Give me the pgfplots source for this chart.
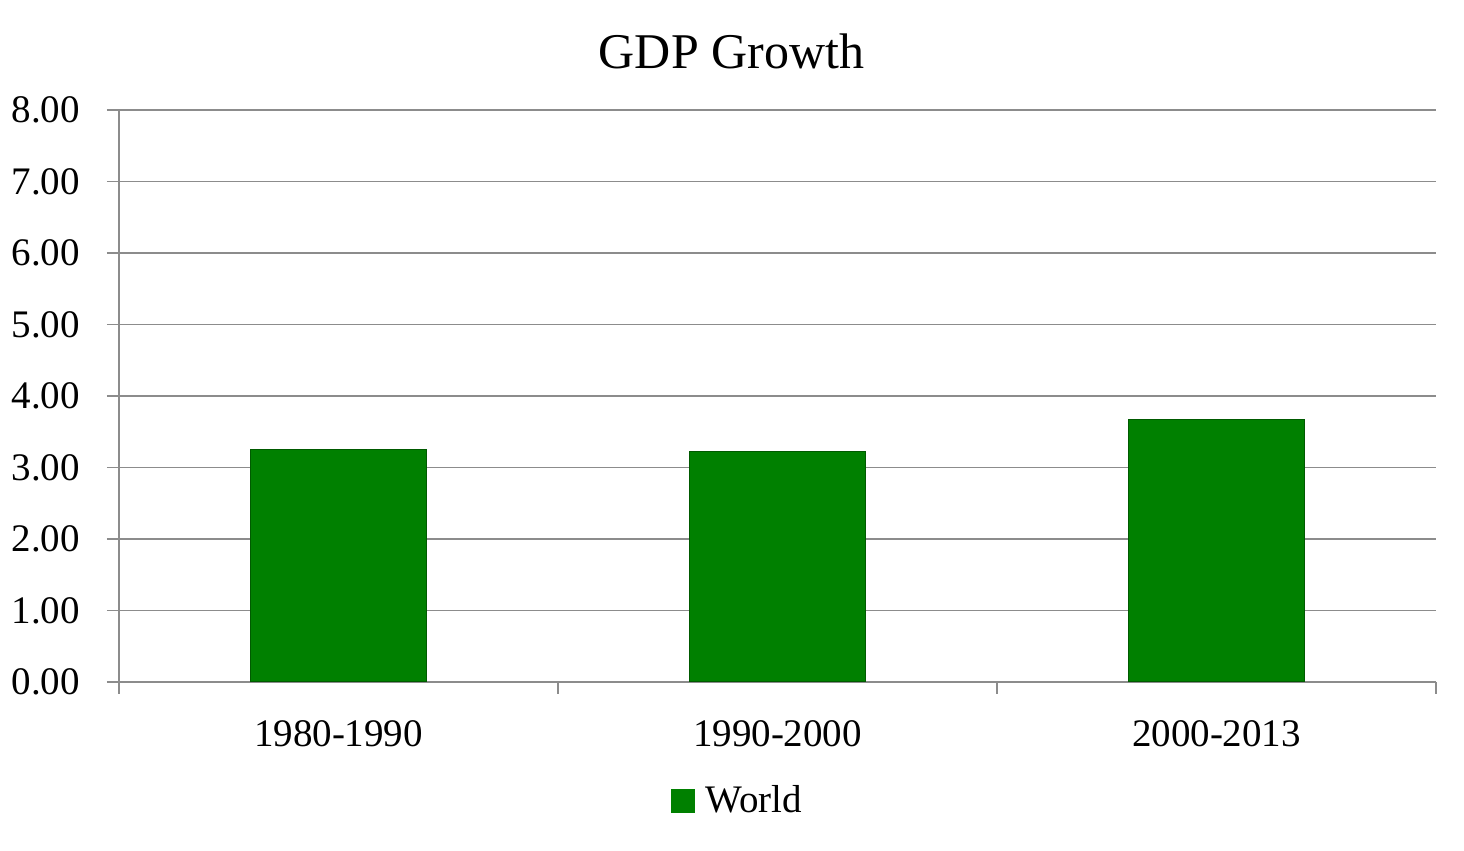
\documentclass[border=0pt]{standalone}
\usepackage{pgfplots}
\pgfplotsset{compat=1.18}
\usepackage{fontspec}
\setmainfont{Liberation Serif}
\definecolor{barg}{HTML}{008000}
\definecolor{axgray}{HTML}{8C8C8C}
\begin{document}
\begin{tikzpicture}
\path[use as bounding box] (0,0) rectangle (732pt,425.5pt);
\begin{axis}[
    at={(59.5pt,84.5pt)}, anchor=south west,
    scale only axis,
    width=658.5pt, height=286pt,
    ymin=0, ymax=8,
    xmin=-0.5, xmax=2.5,
    ytick={0,1,...,8},
    xtick={0,1,2},
    xticklabels={1980-1990,1990-2000,2000-2013},
    minor xtick={-0.5,0.5,1.5,2.5},
    major x tick style={draw=none},
    axis x line=bottom, axis y line=left,
    axis line style={-, draw=axgray, line width=0.7pt},
    tick style={axgray, line width=0.7pt},
    tick align=outside,
    major tick length=6pt, minor tick length=6pt,
    ymajorgrids=true,
    grid style={axgray, line width=0.7pt},
    font=\fontsize{19.5}{24}\selectfont,
    /pgf/number format/assume math mode=true,
    yticklabel style={xshift=-10pt, /pgf/number format/.cd, fixed, fixed zerofill, precision=2},
    xticklabel style={yshift=-10pt},
    title={GDP Growth},
    title style={font=\fontsize{25}{30}\selectfont, yshift=11pt, xshift=-23pt},
    legend style={at={(0.473,-0.208)}, anchor=center, draw=none,
        font=\fontsize{19.5}{24}\selectfont, inner sep=0pt,
        nodes={inner xsep=5.5pt}},
    legend image code/.code={\fill[barg] (0pt,-5.75pt) rectangle (11.5pt,5.75pt);},
]
\addplot[ybar, bar width=88pt, fill=barg, draw=barg!70!black, line width=0.5pt]
coordinates {(0,3.25)(1,3.23)(2,3.67)};
\addlegendentry{World}
\end{axis}
\end{tikzpicture}
\end{document}
